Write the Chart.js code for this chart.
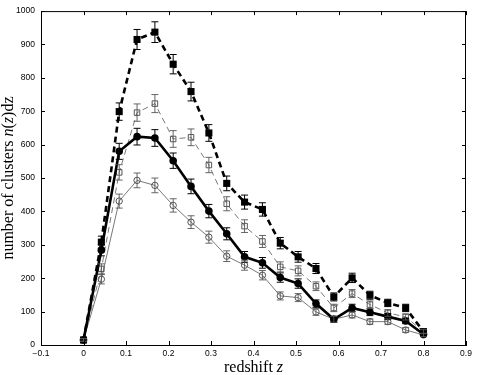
<!DOCTYPE html>
<html>
<head>
<meta charset="utf-8">
<script src="https://cdn.jsdelivr.net/npm/chart.js@4"></script>
<style>
  html, body { margin: 0; padding: 0; background: #fff; }
  #wrap { width: 477px; height: 375px; }
</style>
</head>
<body>
<div id="wrap"><canvas id="nz"></canvas></div>
<script>
const redshift = [0, 0.042, 0.084, 0.126, 0.168, 0.211, 0.253, 0.295, 0.337, 0.379,
                  0.421, 0.463, 0.505, 0.547, 0.589, 0.632, 0.674, 0.716, 0.758, 0.8];

// filled squares, thick dashed
const nzFilledSq = [15, 308, 699, 915, 937, 841, 759, 635, 484, 428, 406, 305, 264, 229, 144, 201, 149, 126, 111, 40];
const errFilledSq = [4, 18, 26, 30, 31, 29, 28, 25, 22, 21, 20, 17, 16, 15, 12, 14, 12, 11, 11, 6];
// open squares, thin dashed
const nzOpenSq = [15, 228, 517, 696, 723, 617, 622, 539, 423, 356, 310, 234, 222, 176, 111, 154, 121, 96, 84, 40];
const errOpenSq = [4, 15, 23, 26, 27, 25, 25, 23, 21, 19, 18, 15, 15, 13, 11, 12, 11, 10, 9, 6];
// filled circles, thick solid
const nzFilledCirc = [15, 284, 580, 624, 620, 552, 475, 401, 333, 264, 246, 202, 184, 124, 77, 111, 98, 85, 72, 32];
const errFilledCirc = [4, 17, 24, 25, 25, 23, 22, 20, 18, 16, 16, 14, 14, 11, 9, 11, 10, 9, 8, 6];
// open circles, thin solid
const nzOpenCirc = [15, 197, 431, 493, 478, 418, 368, 323, 266, 239, 209, 147, 142, 99, 77, 90, 70, 70, 45, 30];
const errOpenCirc = [4, 14, 21, 22, 22, 20, 19, 18, 16, 15, 14, 12, 12, 10, 9, 9, 8, 8, 7, 5];

const xTicks = [-0.1, 0, 0.1, 0.2, 0.3, 0.4, 0.5, 0.6, 0.7, 0.8, 0.9];
const yTicks = [0, 100, 200, 300, 400, 500, 600, 700, 800, 900, 1000];

const pts = vals => vals.map((v, i) => ({ x: redshift[i], y: v }));

const errorBars = {
    id: 'errorBars',
    afterDatasetsDraw(chart) {
        const ctx = chart.ctx;
        const ys = chart.scales.y;
        chart.data.datasets.forEach((ds, di) => {
            const meta = chart.getDatasetMeta(di);
            ctx.save();
            ctx.strokeStyle = ds.errColor;
            ctx.lineWidth = ds.errWidth;
            ctx.setLineDash([]);
            meta.data.forEach((p, i) => {
                const v = ds.data[i].y, e = ds.err[i];
                const top = ys.getPixelForValue(v + e);
                const bot = ys.getPixelForValue(v - e);
                ctx.beginPath();
                ctx.moveTo(p.x, top); ctx.lineTo(p.x, bot);
                ctx.moveTo(p.x - 3.5, top); ctx.lineTo(p.x + 3.5, top);
                ctx.moveTo(p.x - 3.5, bot); ctx.lineTo(p.x + 3.5, bot);
                ctx.stroke();
            });
            ctx.restore();
        });
    }
};

// matlab style box with inward ticks and the two axis titles
const boxAndTitles = {
    id: 'boxAndTitles',
    afterDraw(chart) {
        const ctx = chart.ctx;
        const a = chart.chartArea;
        const xs = chart.scales.x, ys = chart.scales.y;
        ctx.save();
        ctx.strokeStyle = '#000';
        ctx.lineWidth = 1;
        ctx.beginPath();
        ctx.moveTo(a.left, a.top + 0.5); ctx.lineTo(a.right, a.top + 0.5);
        ctx.moveTo(a.right - 0.5, a.top); ctx.lineTo(a.right - 0.5, a.bottom);
        xTicks.forEach(t => {
            const x = Math.round(xs.getPixelForValue(t)) + 0.5;
            ctx.moveTo(x, a.bottom); ctx.lineTo(x, a.bottom - 4);
            ctx.moveTo(x, a.top); ctx.lineTo(x, a.top + 4);
        });
        yTicks.forEach(t => {
            const y = Math.round(ys.getPixelForValue(t)) + 0.5;
            ctx.moveTo(a.left, y); ctx.lineTo(a.left + 4, y);
            ctx.moveTo(a.right, y); ctx.lineTo(a.right - 4, y);
        });
        ctx.stroke();

        ctx.fillStyle = '#000';
        ctx.textBaseline = 'alphabetic';
        const serif = '"Liberation Serif", "Times New Roman", serif';
        const runs = (parts) => parts.reduce((w, p) => {
            ctx.font = (p[1] ? 'italic ' : '') + '16px ' + serif;
            return w + ctx.measureText(p[0]).width;
        }, 0);
        const drawRuns = (parts, x0, y0) => {
            let x = x0;
            ctx.textAlign = 'left';
            parts.forEach(p => {
                ctx.font = (p[1] ? 'italic ' : '') + '16px ' + serif;
                ctx.fillText(p[0], x, y0);
                x += ctx.measureText(p[0]).width;
            });
        };

        const xLabel = [['redshift ', false], ['z', true]];
        const cx = (a.left + a.right) / 2;
        drawRuns(xLabel, cx - runs(xLabel) / 2, 372);

        const yLabel = [['number of clusters ', false], ['n', true], ['(', false], ['z', true], [')dz', false]];
        const cy = (a.top + a.bottom) / 2;
        ctx.translate(13, cy);
        ctx.rotate(-Math.PI / 2);
        drawRuns(yLabel, -runs(yLabel) / 2, 0);
        ctx.restore();
    }
};

const tickFont = { family: '"Liberation Sans", Arial, sans-serif', size: 8.5 };

new Chart(document.getElementById('nz'), {
    type: 'scatter',
    data: {
        datasets: [
            {
                data: pts(nzFilledSq), err: errFilledSq, errColor: '#000', errWidth: 1,
                showLine: true, borderColor: '#000', borderWidth: 2.6, borderDash: [6, 4],
                pointStyle: 'rect', pointRadius: 5, pointBackgroundColor: '#000', pointBorderColor: '#000', pointBorderWidth: 0
            },
            {
                data: pts(nzFilledCirc), err: errFilledCirc, errColor: '#000', errWidth: 1,
                showLine: true, borderColor: '#000', borderWidth: 2.6,
                pointStyle: 'circle', pointRadius: 3.8, pointBackgroundColor: '#000', pointBorderColor: '#000', pointBorderWidth: 0
            },
            {
                data: pts(nzOpenSq), err: errOpenSq, errColor: '#555', errWidth: 0.9,
                showLine: true, borderColor: '#555', borderWidth: 0.8, borderDash: [6, 4],
                pointStyle: 'rect', pointRadius: 3.9, pointBackgroundColor: 'rgba(0,0,0,0)', pointBorderColor: '#444', pointBorderWidth: 0.9
            },
            {
                data: pts(nzOpenCirc), err: errOpenCirc, errColor: '#555', errWidth: 0.9,
                showLine: true, borderColor: '#555', borderWidth: 0.8,
                pointStyle: 'circle', pointRadius: 3.2, pointBackgroundColor: 'rgba(0,0,0,0)', pointBorderColor: '#444', pointBorderWidth: 0.9
            }
        ]
    },
    options: {
        responsive: true,
        maintainAspectRatio: false,
        animation: false,
        layout: { padding: { top: 10, right: 11, left: 0, bottom: 0 } },
        plugins: { legend: { display: false }, tooltip: { enabled: false } },
        elements: { line: { tension: 0 } },
        scales: {
            x: {
                type: 'linear', min: -0.1, max: 0.9,
                afterFit: s => { s.height = 30; },
                afterBuildTicks: s => { s.ticks = xTicks.map(v => ({ value: v })); },
                grid: { display: false, drawTicks: false },
                border: { display: true, color: '#000', width: 1 },
                ticks: {
                    font: tickFont, color: '#000', padding: 4, maxRotation: 0, autoSkip: false,
                    callback: v => v === 0 ? '0' : (v < 0 ? '\u2212' + Math.abs(v).toFixed(1) : v.toFixed(1))
                }
            },
            y: {
                type: 'linear', min: 0, max: 1000,
                afterFit: s => { s.width = 41; },
                afterBuildTicks: s => { s.ticks = yTicks.map(v => ({ value: v })); },
                grid: { display: false, drawTicks: false },
                border: { display: true, color: '#000', width: 1 },
                ticks: { font: tickFont, color: '#000', padding: 6, autoSkip: false, callback: v => String(v) }
            }
        }
    },
    plugins: [errorBars, boxAndTitles]
});
</script>
</body>
</html>
